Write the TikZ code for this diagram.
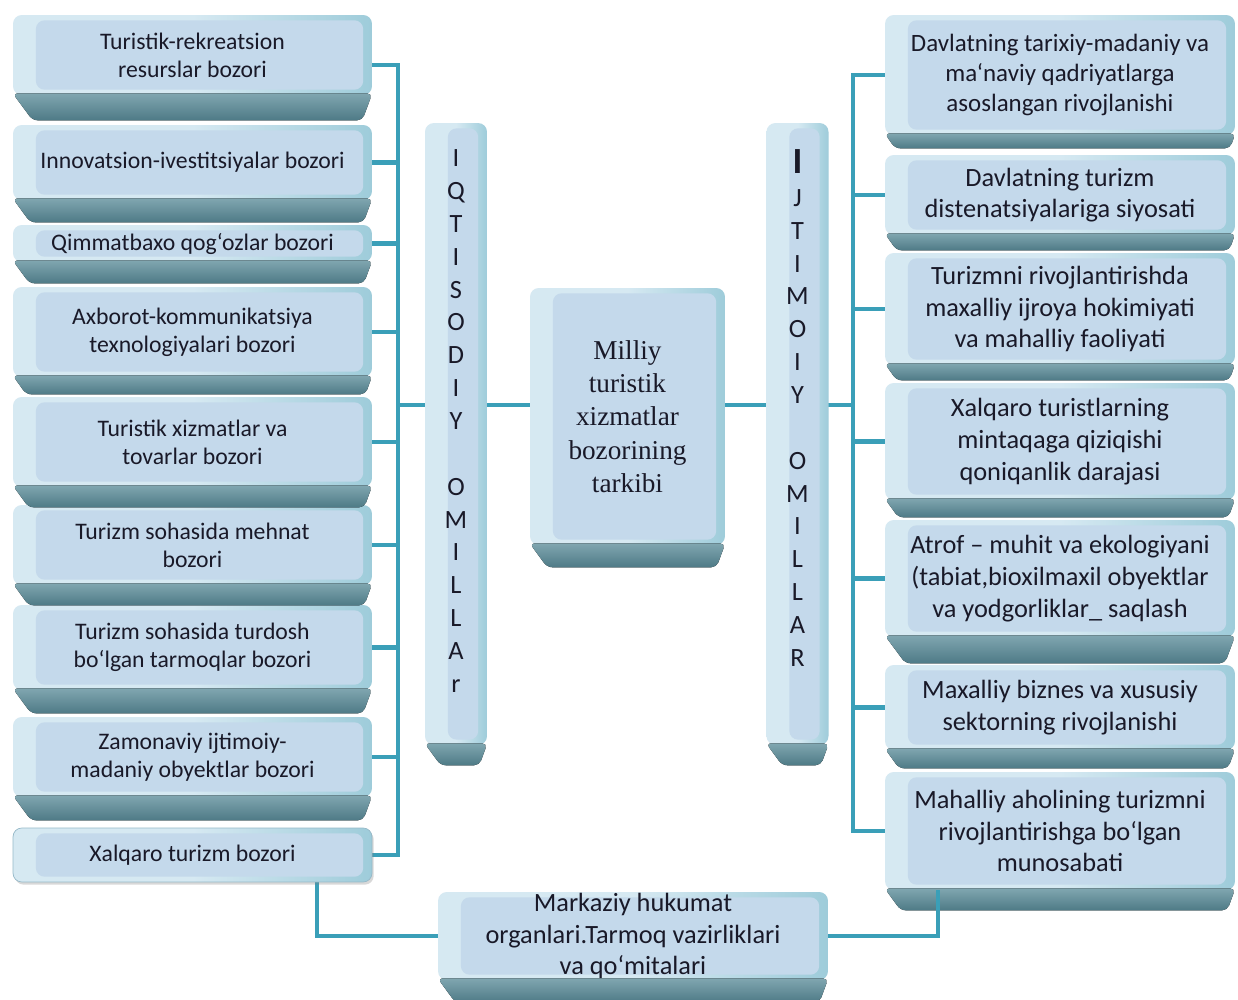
\documentclass[tikz,border=0pt]{standalone}
\usepackage{fontspec}
\setmainfont{Carlito}
\newfontfamily\centrefont{Liberation Serif}
\usetikzlibrary{calc,backgrounds,shadows}

\definecolor{facelight}{RGB}{214,233,242}
\definecolor{faceedge}{RGB}{158,204,218}
\definecolor{faceinner}{RGB}{196,217,235}
\definecolor{beveltop}{RGB}{128,166,176}
\definecolor{bevelbot}{RGB}{78,122,134}
\definecolor{linkblue}{RGB}{58,159,184}
\definecolor{inkdark}{RGB}{25,25,40}

\tikzset{
	face/.style={rounded corners=5pt, left color=facelight, right color=faceedge, middle color=facelight,
		inner sep=0pt, text=inkdark, align=center,
		path picture={\fill[faceinner] ([xshift=13pt,yshift=-3pt]path picture bounding box.north west)
			rectangle ([xshift=-5pt,yshift=3pt]path picture bounding box.south east);}},
	lbox/.style={face, minimum width=7.18cm, font=\fontsize{13.5}{16}\selectfont},
	rbox/.style={face, minimum width=7cm, font=\fontsize{15}{18}\selectfont},
	colbox/.style={face, minimum width=1.24cm, minimum height=12.44cm},
	letters/.style={align=center, text=inkdark, font=\fontsize{15}{18.7}\selectfont, inner sep=0pt},
	bevel/.style={top color=beveltop, bottom color=bevelbot},
	link/.style={draw=linkblue, line width=2.4pt}
}

\begin{document}
\begin{tikzpicture}[x=0.02cm, y=-0.02cm]
	\useasboundingbox (0,0) rectangle (1238,1000);

	\node[lbox, minimum height=1.6cm] (l1) at (192.5,55) {Turistik-rekreatsion\\resurslar bozori};
	\node[lbox, minimum height=1.5cm] (l2) at (192.5,162.5) {Innovatsion-ivestitsiyalar bozori};
	\node[lbox, minimum height=0.74cm] (l3) at (192.5,243.5) {Qimmatbaxo qog`ozlar bozori};
	\node[lbox, minimum height=1.8cm] (l4) at (192.5,332) {Axborot-kommunikatsiya\\texnologiyalari bozori};
	\node[lbox, minimum height=1.8cm] (l5) at (192.5,442) {Turistik xizmatlar va\\tovarlar bozori};
	\node[lbox, minimum height=1.6cm] (l6) at (192.5,545) {Turizm sohasida mehnat\\bozori};
	\node[lbox, minimum height=1.7cm] (l7) at (192.5,647.5) {Turizm sohasida turdosh\\bo`lgan tarmoqlar bozori};
	\node[lbox, minimum height=1.6cm] (l8) at (192.5,757) {Zamonaviy ijtimoiy-\\madaniy obyektlar bozori};
	\node[lbox, minimum height=1.08cm, draw={rgb,255:red,150;green,185;blue,200},
		drop shadow={opacity=0.3, shadow xshift=1pt, shadow yshift=-1.5pt}] (l9) at (192.5,855) {Xalqaro turizm bozori};

	\node[colbox] (lcol) at (456,434) {};
	\node[colbox] (rcol) at (797.5,434) {};
	\node[letters] (lword) at ([yshift=0.26cm]lcol.center) {I\\Q\\T\\I\\S\\O\\D\\I\\Y\\\mbox{}\\O\\M\\I\\L\\L\\A\\r};
	\node[letters] (rword) at ([yshift=0.52cm]rcol.center) {{\fontsize{21}{18.7}\selectfont\bfseries I}\\J\\T\\I\\M\\O\\I\\Y\\\mbox{}\\O\\M\\I\\L\\L\\A\\R};

	\node[face, minimum width=3.9cm, minimum height=5.14cm, font=\centrefont\fontsize{15.5}{19}\selectfont] (ctr)
		at (627.5,416.5) {Milliy\\turistik\\xizmatlar\\bozorining\\tarkibi};

	\node[rbox, minimum height=2.4cm, font=\fontsize{14.2}{17}\selectfont] (r1) at (1060,75) {Davlatning tarixiy-madaniy va\\ma`naviy qadriyatlarga\\asoslangan rivojlanishi};
	\node[rbox, minimum height=1.6cm] (r2) at (1060,195) {Davlatning turizm\\distenatsiyalariga siyosati};
	\node[rbox, minimum height=2.24cm] (r3) at (1060,309) {Turizmni rivojlantirishda\\maxalliy ijroya hokimiyati\\va mahalliy faoliyati};
	\node[rbox, minimum height=2.34cm] (r4) at (1060,441.5) {Xalqaro turistlarning\\mintaqaga qiziqishi\\qoniqanlik darajasi};
	\node[rbox, minimum height=2.34cm] (r5) at (1060,578.5) {Atrof -- muhit va ekologiyani\\(tabiat,bioxilmaxil obyektlar\\va yodgorliklar\_ saqlash};
	\node[rbox, minimum height=1.7cm] (r6) at (1060,707.5) {Maxalliy biznes va xususiy\\sektorning rivojlanishi};
	\node[rbox, minimum height=2.36cm] (r7) at (1060,831) {Mahalliy aholining turizmni\\rivojlantirishga bo`lgan\\munosabati};

	\node[rbox, minimum width=7.8cm, minimum height=1.76cm] (bot) at (633,936) {Markaziy hukumat\\organlari.Tarmoq vazirliklari\\va qo`mitalari};

	\foreach \n/\d in {l1/25,l2/22,l3/21,l4/17,l5/20,l6/20,l7/23,l8/23,r1/13,r2/15,r3/15,r4/17,r5/26,r6/18,r7/20,lcol/20,rcol/20,ctr/22,bot/22}
		\fill[bevel, rounded corners=3pt] ($(\n.south west)+(0,-2)$) -- ($(\n.south west)+(0.8*\d,\d)$)
			-- ($(\n.south east)+(-0.4*\d,\d)$) -- ($(\n.south east)+(0,-2)$) -- cycle;

	\coordinate (lbar) at (398,0);
	\coordinate (rbar) at (853,0);
	\coordinate (hub) at (0,405);
	\coordinate (ldrop) at (317,0);
	\coordinate (rdrop) at (938,0);
	\coordinate (l1s) at ([yshift=-0.2cm]l1.east);

	\begin{scope}[on background layer]
		\fill[white] (0,0) rectangle (1238,1000);
		\draw[link] (l1s) -- (l1s -| lbar) -- (l9.east -| lbar) -- (l9.east);
		\foreach \n in {l2,l3,l4,l5,l6,l7,l8}
			\draw[link] (\n.east) -- (\n.east -| lbar);
		\draw[link] (lbar |- hub) -- (ctr.west |- hub);
		\draw[link] (ctr.east |- hub) -- (rbar |- hub);
		\draw[link] (r1.west) -- (r1.west -| rbar) -- (r7.west -| rbar) -- (r7.west);
		\foreach \n in {r2,r3,r4,r5,r6}
			\draw[link] (\n.west) -- (\n.west -| rbar);
		\draw[link] (l9.south -| ldrop) |- (bot.west);
	\end{scope}
	\draw[link] (bot.east) -| (r7.south -| rdrop);
\end{tikzpicture}
\end{document}
